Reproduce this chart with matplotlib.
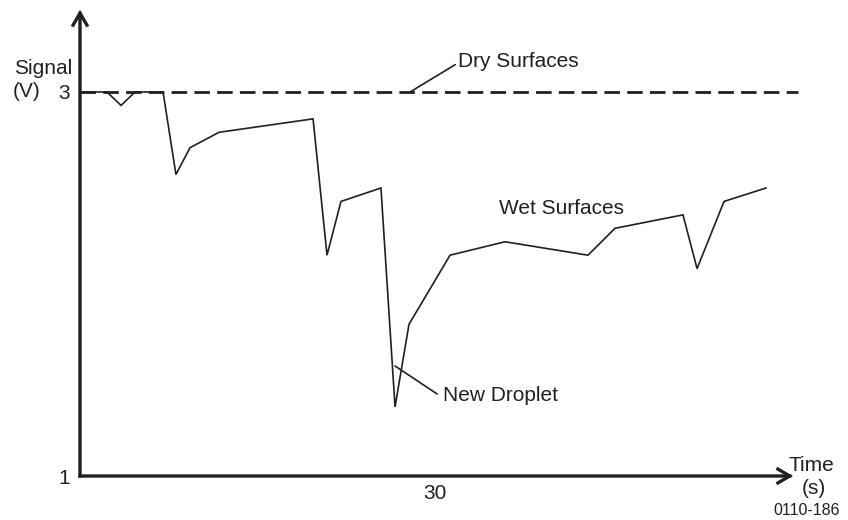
import matplotlib
matplotlib.use("Agg")
import matplotlib.pyplot as plt
from matplotlib.patches import FancyArrowPatch

plt.rcParams['font.family'] = ['Liberation Sans', 'DejaVu Sans']

# ---- data ----
time_s = [0, 2.28, 3.47, 4.65, 7.02, 8.11, 9.30, 11.75, 19.70, 20.88, 22.06,
          25.44, 26.63, 27.81, 31.28, 35.93, 42.94, 45.22, 50.97, 52.16,
          54.44, 57.99]
signal_v = [3.0, 3.0, 2.93, 3.0, 3.0, 2.57, 2.71, 2.79, 2.86, 2.15, 2.43,
            2.50, 1.36, 1.79, 2.15, 2.22, 2.15, 2.29, 2.36, 2.08,
            2.43, 2.50]
dry_level = 3.0
dry_x = [0, 60.7]
y_ticks = [1, 3]
y_ticklabels = ["1", "3"]
x_ticks = [30]
x_ticklabels = ["30"]

INK = '#231f20'
FS = 15

fig = plt.figure(figsize=(8.48, 5.2), dpi=100)
ax = fig.add_axes([80 / 848, 44 / 520, 713 / 848, 466 / 520])
ax.set_xlim(0, 60.27)
ax.set_ylim(1, 3.427)
for s in ax.spines.values():
    s.set_visible(False)

ax.set_yticks(y_ticks)
ax.set_yticklabels(y_ticklabels, fontsize=FS, color=INK)
ax.set_xticks(x_ticks)
ax.set_xticklabels(x_ticklabels, fontsize=FS, color=INK)
ax.tick_params(axis='both', length=0)
ax.tick_params(axis='y', pad=7)
ax.tick_params(axis='x', pad=6)

# axes with arrows
for (xy0, xy1) in [((0, 0), (1, 0)), ((0, 0), (0, 1))]:
    arr = FancyArrowPatch(xy0, xy1, transform=ax.transAxes,
                          arrowstyle='->,head_length=0.85,head_width=0.5',
                          mutation_scale=10, lw=2.4, color=INK,
                          shrinkA=0, shrinkB=0, clip_on=False,
                          capstyle='projecting', joinstyle='miter')
    ax.add_patch(arr)

# dry surfaces dashed reference
ax.plot(dry_x, [dry_level, dry_level], color=INK, lw=2.0,
        linestyle=(0, (5.6, 2.6)), clip_on=False, zorder=2)

# signal
ax.plot(time_s, signal_v, color=INK, lw=1.2, zorder=3,
        solid_joinstyle='miter')

# annotations
ax.annotate("Dry Surfaces", xy=(27.9, 3.0), xytext=(31.95, 3.161),
            fontsize=FS, color=INK, ha='left', va='center',
            arrowprops=dict(arrowstyle='-', color=INK, lw=1.2,
                            shrinkA=0, shrinkB=0,
                            relpos=(0, 0.4)))
ax.text(35.42, 2.391, "Wet Surfaces", fontsize=FS, color=INK,
        ha='left', va='center')
ax.annotate("New Droplet", xy=(26.63, 1.573), xytext=(30.68, 1.417),
            fontsize=FS, color=INK, ha='left', va='center',
            arrowprops=dict(arrowstyle='-', color=INK, lw=1.2,
                            shrinkA=0, shrinkB=0,
                            relpos=(-0.05, 0.6)))

# axis titles
ax.text(-0.68, 3.12, "Signal", fontsize=FS, color=INK, ha='right',
        va='center', clip_on=False)
ax.text(-5.66, 3.0, "(V)", fontsize=FS, color=INK, ha='left',
        va='center', clip_on=False)
ax.text(61.8, 1.055, "Time", fontsize=FS, color=INK, ha='center',
        va='center', clip_on=False)
ax.text(62.0, 0.935, "(s)", fontsize=FS, color=INK, ha='center',
        va='center', clip_on=False)
ax.text(61.45, 0.82, "0110-186", fontsize=11.5, color=INK, ha='center',
        va='center', clip_on=False)

fig.savefig("out.png", dpi=100)
